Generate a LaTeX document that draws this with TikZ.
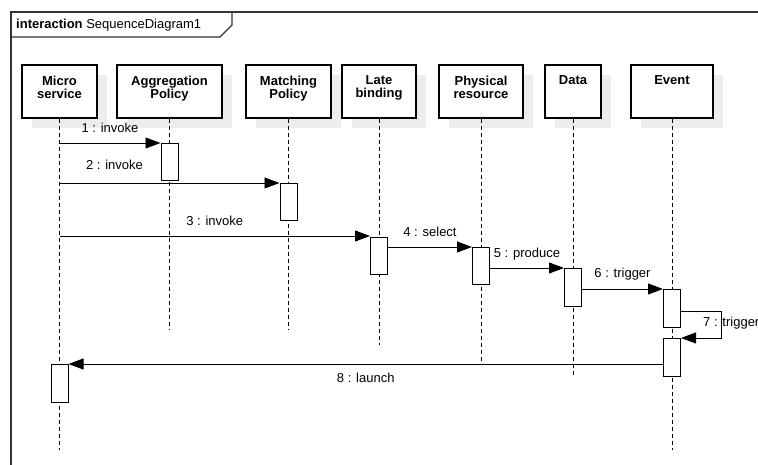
\documentclass[tikz,border=0pt]{standalone}
\usepackage{fontspec}
\setmainfont{Liberation Sans}
\usetikzlibrary{arrows.meta, positioning, shadows}
\newcommand{\sqfont}{\fontsize{13}{13}\selectfont}
\tikzset{
  frameline/.style={draw=black!80, line width=1.1pt},
  head/.style={draw, line width=1.1pt, fill=white, inner sep=0pt, minimum height=53pt,
    drop shadow={shadow xshift=10pt, shadow yshift=-10pt, fill=black!7, opacity=1}},
  headtext/.style={font=\sqfont\bfseries, align=center, inner sep=0pt},
  lifeline/.style={line width=1pt, dash pattern=on 4pt off 3pt},
  act/.style={draw, line width=1pt, fill=white, inner sep=0pt, minimum width=17pt,
    minimum height=37.5pt, anchor=north},
  msg/.style={line width=0.9pt, -{Triangle[length=15pt, width=11pt]}},
  msgtext/.style={font=\sqfont, inner sep=0pt, text depth=0pt},
}

\begin{document}
\begin{tikzpicture}[x=1pt, y=-1pt]
  \useasboundingbox (0,0) rectangle (758,465);
  % frame
  \draw[frameline] (11,12) rectangle (790,495);
  \draw[frameline] (11,37) -- (220,37) -- (232,25) -- (232,12);
  \node[msgtext, anchor=base west] (title) at (16,29) {\textbf{interaction} SequenceDiagram1};

  % lifeline heads
  \node[head, minimum width=75pt] (micro) at (59.5,91.5) {};
  \node[headtext, below=11pt of micro.north] (micro-t) {Micro\\service};
  \node[head, minimum width=105pt] (aggr) at (169.5,91.5) {};
  \node[headtext, below=11pt of aggr.north] (aggr-t) {Aggregation\\Policy};
  \node[head, minimum width=85pt] (match) at (288.5,91.5) {};
  \node[headtext, below=11pt of match.north] (match-t) {Matching\\Policy};
  \node[head, minimum width=74pt] (late) at (379,91.5) {};
  \node[headtext, below=11pt of late.north] (late-t) {Late\\binding};
  \node[head, minimum width=84pt] (phys) at (481,91.5) {};
  \node[headtext, below=11pt of phys.north] (phys-t) {Physical\\resource};
  \node[head, minimum width=56pt] (data) at (573,91.5) {};
  \node[headtext, below=11pt of data.north] (data-t) {Data};
  \node[head, minimum width=82pt] (event) at (672,91.5) {};
  \node[headtext, below=11pt of event.north] (event-t) {Event};

  % lifelines
  \draw[lifeline] (micro.south) -- (micro |- 0,450);
  \draw[lifeline] (aggr.south) -- (aggr |- 0,330);
  \draw[lifeline] (match.south) -- (match |- 0,330);
  \draw[lifeline] (late.south) -- (late |- 0,345);
  \draw[lifeline] (phys.south) -- (phys |- 0,365);
  \draw[lifeline] (data.south) -- (data |- 0,377);
  \draw[lifeline] (event.south) -- (event |- 0,450);

  % activations
  \node[act] (a1) at (aggr |- 0,143) {};
  \node[act] (a2) at (match |- 0,183) {};
  \node[act] (a3) at (late |- 0,237) {};
  \node[act] (a4) at (phys |- 0,247) {};
  \node[act] (a5) at (data |- 0,268) {};
  \node[act] (a6) at (event |- 0,289) {};
  \node[act] (a7) at (event |- 0,338) {};
  \node[act] (a8) at (micro |- 0,364) {};

  % messages
  \draw[msg] (micro |- a1.north) -- node[msgtext, above=10pt] (m1) {1 : invoke} (a1.north west);
  \draw[msg] (micro |- a2.north) -- node[msgtext, pos=0.25, above=13pt] (m2) {2 : invoke} (a2.north west);
  \draw[msg] (micro |- 0,236) -- node[msgtext, above=10pt] (m3) {3 : invoke} (a3.west |- 0,236);
  \draw[msg] (a3.east |- a4.north) -- node[msgtext, above=10pt] (m4) {4 : select} (a4.north west);
  \draw[msg] (a4.east |- a5.north) -- node[msgtext, above=10pt] (m5) {5 : produce} (a5.north west);
  \draw[msg] (a5.east |- a6.north) -- node[msgtext, above=11pt] (m6) {6 : trigger} (a6.north west);
  \coordinate (loop) at (721,311);
  \draw[msg] (a6.east |- loop) -- (loop) -- (loop |- a7.north) -- (a7.north east);
  \node[msgtext, anchor=base west] (m7) at (703,326) {7 : trigger};
  \draw[msg] (a7.west |- a8.north) -- node[msgtext, below=9pt] (m8) {8 : launch} (a8.north east);
\end{tikzpicture}
\end{document}
